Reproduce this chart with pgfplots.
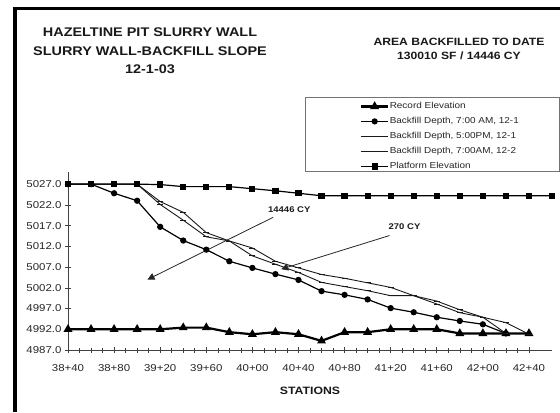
\documentclass[border=0pt]{standalone}
\usepackage{fontspec}
\setmainfont{Liberation Sans}[FakeStretch=1.15]
\usepackage{pgfplots}
\pgfplotsset{compat=1.18}
\usetikzlibrary{arrows.meta}

\pgfplotstableread{
x y
3840 4992.0
3860 4992.0
3880 4992.0
3900 4992.0
3920 4992.0
3940 4992.4
3960 4992.4
3980 4991.3
4000 4990.8
4020 4991.3
4040 4990.8
4060 4989.2
4080 4991.3
4100 4991.3
4120 4992.0
4140 4992.0
4160 4992.0
4180 4991.0
4200 4991.0
4220 4991.0
4240 4991.0
}\record

\pgfplotstableread{
x y
3840 5027.0
3860 5027.0
3880 5024.8
3900 5023.0
3920 5016.7
3940 5013.4
3960 5011.2
3980 5008.4
4000 5006.8
4020 5005.3
4040 5003.9
4060 5001.2
4080 5000.3
4100 4999.2
4120 4997.1
4140 4996.1
4160 4994.9
4180 4994.0
4200 4993.2
4220 4991.0
}\amone

\pgfplotstableread{
x y
3840 5027.0
3860 5027.0
3880 5027.0
3900 5027.0
3920 5022.8
3940 5020.2
3960 5015.3
3980 5013.3
4000 5009.7
4020 5007.7
4040 5005.7
4060 5003.3
4080 5002.3
4100 5001.3
4120 5000.1
4140 5000.1
4160 4998.1
4180 4996.0
4200 4994.9
4220 4991.0
}\pmone

\pgfplotstableread{
x y
3840 5027.0
3860 5027.0
3880 5027.0
3900 5027.0
3920 5022.1
3940 5018.3
3960 5014.3
3980 5013.3
4000 5011.6
4020 5008.4
4040 5006.8
4060 5005.2
4080 5004.3
4100 5003.2
4120 5002.1
4140 5000.1
4160 4998.8
4180 4996.7
4200 4994.9
4220 4993.6
4240 4990.8
}\amtwo

\pgfplotstableread{
x y
3840 5027.0
3860 5027.0
3880 5027.0
3900 5027.0
3920 5026.9
3940 5026.4
3960 5026.4
3980 5026.4
4000 5025.9
4020 5025.4
4040 5024.8
4060 5024.2
4080 5024.2
4100 5024.2
4120 5024.2
4140 5024.2
4160 5024.2
4180 5024.2
4200 5024.2
4220 5024.2
4240 5024.2
4260 5024.2
}\platform

\begin{document}
\begin{tikzpicture}[x=1bp,y=1bp]
\useasboundingbox (0,0) rectangle (560,412);
% frame
\draw[line width=3bp, black] (12.7,403.5) -- (560,403.5);
\draw[line width=4bp, black] (14.7,405) -- (14.7,0);
% titles
\node[align=center, text=black!90, font=\fontsize{12.6}{18.4}\selectfont\bfseries] at (150,361)
  {HAZELTINE PIT SLURRY WALL\\SLURRY WALL-BACKFILL SLOPE\\12-1-03};
\node[align=center, text=black!90, font=\fontsize{10.6}{14.3}\selectfont\bfseries] at (459,363)
  {AREA BACKFILLED TO DATE\\130010 SF / 14446 CY};
% legend box
\draw[black!55, line width=0.9bp] (305,315) rectangle (559,241);

\begin{axis}[
  at={(68bp,62bp)}, anchor=south west,
  scale only axis, width=484bp, height=178.3bp,
  xmin=3840, xmax=4260, ymin=4987, ymax=5030,
  clip=false,
  axis x line*=bottom, axis y line*=left,
  axis line style={black!75, line width=0.8bp},
  xtick={3840,3880,...,4240},
  xticklabels={38+40,38+80,39+20,39+60,40+00,40+40,40+80,41+20,41+60,42+00,42+40},
  minor x tick num=3,
  ytick={4987,4992,...,5027},
  tick align=center,
  major tick length=6bp, minor tick length=5bp,
  tick style={black!75, line width=0.6bp},
  /pgf/number format/assume math mode=true,
  yticklabel style={/pgf/number format/.cd, fixed, fixed zerofill, precision=1, 1000 sep={}},
  xticklabel style={yshift=-8bp},
  ticklabel style={font=\fontsize{10}{12}\selectfont, text=black!85},
  xlabel={STATIONS},
  every axis x label/.style={at={(axis description cs:0.5,0)}, anchor=center, yshift=-41bp,
     font=\fontsize{10.7}{12}\selectfont\bfseries, text=black!90},
  legend style={at={(axis description cs:0.603,1.392)}, anchor=north west,
     draw=none, fill=none, inner sep=0pt, row sep=6.2bp, column sep=0pt,
     font=\fontsize{8.7}{10}\selectfont, text=black!85,
     nodes={inner sep=0.5bp, text height=6bp, text depth=1.8bp}},
  legend cell align=left,
  legend image code/.code={\draw[mark repeat=2,mark phase=2,#1] plot coordinates {(0bp,0bp) (13.5bp,0bp) (27bp,0bp)};},
]
\addplot[black, line width=2.2bp, mark=triangle*, mark size=3bp, mark options={solid}] table {\record};
\addlegendentry{Record Elevation}
\addplot[black, line width=1.2bp, mark=*, mark size=2.5bp] table {\amone};
\addlegendentry{Backfill Depth, 7:00 AM, 12-1}
\addplot[black!90, line width=0.9bp, mark=-, mark size=3bp] table {\pmone};
\addlegendentry{Backfill Depth, 5:00PM, 12-1}
\addplot[black!90, line width=0.9bp, mark=-, mark size=3bp] table {\amtwo};
\addlegendentry{Backfill Depth, 7:00AM, 12-2}
\addplot[black, line width=1.2bp, mark=square*, mark size=2.5bp] table {\platform};
\addlegendentry{Platform Elevation}
% annotations
\draw[black!85, line width=0.8bp, -{Triangle[length=7bp,width=7bp]}] (axis cs:4018,5019.0) -- (axis cs:3909,5004.0);
\draw[black!85, line width=0.8bp, -{Triangle[length=7bp,width=7bp]}] (axis cs:4119,5014.6) -- (axis cs:4025,5006.5);
\node[font=\fontsize{8.3}{10}\selectfont\bfseries, text=black!90] at (axis cs:4032,5020.8) {14446 CY};
\node[font=\fontsize{8.3}{10}\selectfont\bfseries, text=black!90] at (axis cs:4132,5016.8) {270 CY};
\end{axis}
\end{tikzpicture}
\end{document}
